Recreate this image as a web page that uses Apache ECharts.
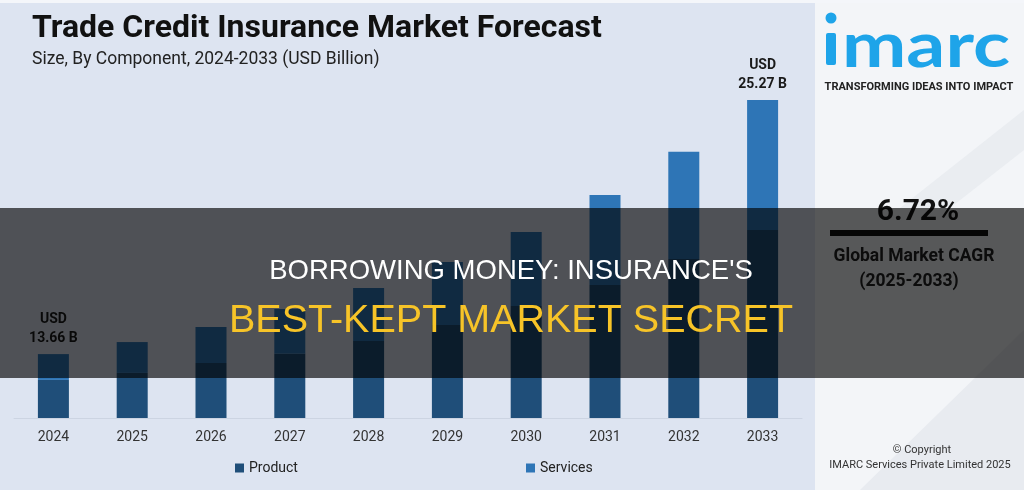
<!DOCTYPE html>
<html>
<head>
    <meta charset="utf-8">
    <title>Trade Credit Insurance Market Forecast</title>
    <script src="https://cdn.jsdelivr.net/npm/echarts@6/dist/echarts.min.js"></script>
    <style>
        html, body { margin: 0; padding: 0; background: #dde4f1; }
        #main { width: 1024px; height: 490px; }
    </style>
</head>
<body>
<div id="main"></div>
<script type="text/javascript">
    // 数据
    var years = ['2024', '2025', '2026', '2027', '2028', '2029', '2030', '2031', '2032', '2033'];
    var product = [12.48, 12.80, 13.25, 13.67, 14.26, 14.99, 15.86, 16.82, 18.01, 19.33];
    var services = [1.18, 1.41, 1.65, 2.05, 2.42, 2.88, 3.38, 4.11, 4.89, 5.94];
    var totalLabels = ['13.66 B', '', '', '', '', '', '', '', '', '25.27 B'];

    var myChart = echarts.init(document.getElementById('main'));

    var servicesData = services.map(function (v, i) {
        if (totalLabels[i]) {
            return {value: v, label: {show: true}};
        }
        return v;
    });

    var option = {
        backgroundColor: '#dde4f1',
        animation: false,
        title: {
            text: 'Trade Credit Insurance Market Forecast',
            subtext: 'Size, By Component, 2024-2033 (USD Billion)',
            left: 27,
            top: 8,
            itemGap: 6,
            textStyle: {fontSize: 32, fontWeight: 'bold', color: '#111', fontFamily: 'Roboto'},
            subtextStyle: {fontSize: 17.5, color: '#222', fontFamily: 'Roboto'}
        },
        legend: [
            {
                data: ['Product'], left: 230, top: 456, icon: 'rect',
                itemWidth: 9, itemHeight: 9, itemGap: 5,
                textStyle: {fontSize: 14, color: '#222', fontFamily: 'Roboto'}
            },
            {
                data: ['Services'], left: 521, top: 456, icon: 'rect',
                itemWidth: 9, itemHeight: 9, itemGap: 5,
                textStyle: {fontSize: 14, color: '#222', fontFamily: 'Roboto'}
            }
        ],
        grid: {left: 14, right: 222, top: 100, bottom: 72},
        xAxis: {
            type: 'category',
            data: years,
            axisTick: {show: false},
            axisLine: {lineStyle: {color: '#ccd4e2'}},
            axisLabel: {color: '#333', fontSize: 14, margin: 12, fontFamily: 'Roboto'}
        },
        yAxis: {
            type: 'value',
            min: 10.74,
            max: 25.27,
            show: false
        },
        series: [
            {
                name: 'Product',
                type: 'bar',
                stack: 'total',
                barWidth: 31,
                clip: true,
                itemStyle: {color: '#1f4e79'},
                data: product
            },
            {
                name: 'Services',
                type: 'bar',
                stack: 'total',
                barWidth: 31,
                clip: true,
                itemStyle: {color: '#2e75b6'},
                label: {
                    show: false,
                    position: 'top',
                    distance: 6,
                    formatter: function (p) {
                        return 'USD\n' + totalLabels[p.dataIndex];
                    },
                    fontSize: 14,
                    fontWeight: 'bold',
                    lineHeight: 19,
                    color: '#1a1a1a',
                    fontFamily: 'Roboto'
                },
                data: servicesData
            }
        ],
        graphic: [
            // 右侧面板
            {type: 'rect', z: 0, shape: {x: 815, y: 0, width: 209, height: 490}, style: {fill: '#f3f5f8'}},
            {type: 'polygon', z: 0, shape: {points: [[860, 490], [1024, 330], [1024, 490]]}, style: {fill: '#e8ebf0'}},
            {type: 'polygon', z: 0, shape: {points: [[900, 208], [1024, 110], [1024, 150], [950, 208]]}, style: {fill: '#eaedf1'}},
            {type: 'rect', z: 0, shape: {x: 0, y: 0, width: 1024, height: 3}, style: {fill: '#f4f6fa'}},
            // imarc 标志
            {type: 'circle', z: 1, shape: {cx: 831, cy: 18, r: 5.5}, style: {fill: '#1ea4e9'}},
            {type: 'rect', z: 1, shape: {x: 826, y: 33, width: 10, height: 32, r: 2}, style: {fill: '#1ea4e9'}},
            {
                type: 'text', z: 1, x: 842, y: 47, scaleX: 1.22,
                style: {text: 'marc', font: 'bold 63px Lato', fill: '#1ea4e9', align: 'left', verticalAlign: 'middle'}
            },
            {
                type: 'text', z: 1, x: 919, y: 87,
                style: {text: 'TRANSFORMING IDEAS INTO IMPACT', font: 'bold 11px Roboto', fill: '#222', align: 'center', verticalAlign: 'middle'}
            },
            {
                type: 'text', z: 1, x: 918, y: 212,
                style: {text: '6.72%', font: 'bold 30px Roboto', fill: '#111', align: 'center', verticalAlign: 'middle'}
            },
            {type: 'rect', z: 1, shape: {x: 830, y: 230, width: 158, height: 6}, style: {fill: '#111'}},
            {
                type: 'text', z: 1, x: 914, y: 257,
                style: {text: 'Global Market CAGR', font: 'bold 17.5px Roboto', fill: '#222', align: 'center', verticalAlign: 'middle'}
            },
            {
                type: 'text', z: 1, x: 909, y: 282,
                style: {text: '(2025-2033)', font: 'bold 17.5px Roboto', fill: '#222', align: 'center', verticalAlign: 'middle'}
            },
            {
                type: 'text', z: 1, x: 922, y: 450,
                style: {text: '© Copyright', font: '11px Roboto', fill: '#333', align: 'center', verticalAlign: 'middle'}
            },
            {
                type: 'text', z: 1, x: 920, y: 465,
                style: {text: 'IMARC Services Private Limited 2025', font: '11px Roboto', fill: '#333', align: 'center', verticalAlign: 'middle'}
            },
            // 遮罩条和标题
            {type: 'rect', z: 50, shape: {x: 0, y: 208, width: 1024, height: 170}, style: {fill: 'rgba(0,0,0,0.645)'}},
            {
                type: 'text', z: 51, x: 511, y: 271,
                style: {text: "BORROWING MONEY: INSURANCE'S", font: '27.5px "Liberation Sans"', fill: '#ffffff', align: 'center', verticalAlign: 'middle'}
            },
            {
                type: 'text', z: 51, x: 511, y: 321,
                style: {text: 'BEST-KEPT MARKET SECRET', font: '39.5px "Liberation Sans"', fill: '#f7c428', align: 'center', verticalAlign: 'middle'}
            }
        ]
    };

    myChart.setOption(option);
</script>
</body>
</html>
